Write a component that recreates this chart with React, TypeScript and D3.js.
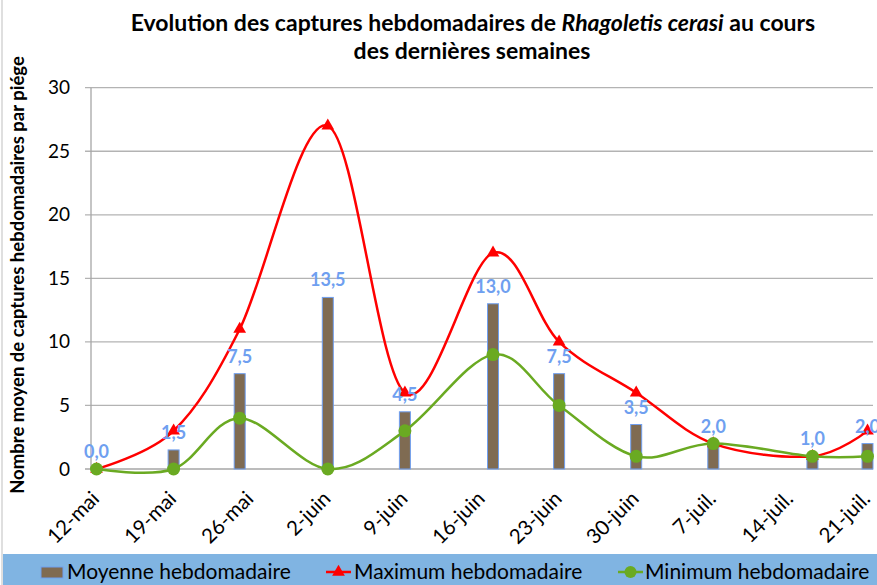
import React from 'react';
import * as d3 from 'd3';

// relevés (dates réelles des captures)
const dates = ['2019-05-12', '2019-05-19', '2019-05-25', '2019-06-02', '2019-06-09', '2019-06-17', '2019-06-23', '2019-06-30', '2019-07-07', '2019-07-16', '2019-07-21'];
const moyenne = [0.0, 1.5, 7.5, 13.5, 4.5, 13.0, 7.5, 3.5, 2.0, 1.0, 2.0];
const maximum = [0, 3, 11, 27, 6, 17, 10, 6, 2, 1, 3];
const minimum = [0, 0, 4, 0, 3, 9, 5, 1, 2, 1, 1];

// graduations de l'axe des dates
const tickDates = ['2019-05-12', '2019-05-19', '2019-05-26', '2019-06-02', '2019-06-09', '2019-06-16', '2019-06-23', '2019-06-30', '2019-07-07', '2019-07-14', '2019-07-21'];
const tickLabels = ['12-mai', '19-mai', '26-mai', '2-juin', '9-juin', '16-juin', '23-juin', '30-juin', '7-juil.', '14-juil.', '21-juil.'];
const yTicks = [0, 5, 10, 15, 20, 25, 30];

const FONT = 'Lato, "Open Sans", sans-serif';
const RED = '#ff0000';
const GREEN = '#6aaa22';
const BROWN = '#7f6b52';
const BAR_STROKE = '#6f9ff0';
const LABEL_BLUE = '#6f9ff0';

export default function App() {
  const parse = d3.timeParse('%Y-%m-%d');
  const days = dates.map(d => parse(d) as Date);
  const ticks = tickDates.map(d => parse(d) as Date);

  const half = 12 * 3600 * 1000;
  const x = d3.scaleTime()
    .domain([new Date(days[0].getTime() - half), new Date(days[days.length - 1].getTime() + half)])
    .range([91, 873]);
  const y = d3.scaleLinear().domain([0, 30]).range([469, 87.7]);

  const curve = d3.curveCardinal.tension(0);
  const lineOf = (vals: number[]) =>
    d3.line<number>()
      .x((_, i) => x(days[i]))
      .y(v => y(v))
      .curve(curve)(vals) as string;

  const tri = d3.symbol().type(d3.symbolTriangle).size(70)() as string;
  const barW = 11;

  return (
    <div style={{ position: 'absolute', left: 0, top: 0 }}>
      <svg width={877} height={585} style={{ display: 'block', fontFamily: FONT }}>
        <rect x={0} y={0} width={877} height={585} fill="#ffffff" />
        <line x1={2} x2={2} y1={0} y2={585} stroke="#bfbfbf" />

        {/* titre */}
        <text x={473} y={31} textAnchor="middle" fontSize={23} fontWeight="bold" fill="#000">
          Evolution des captures hebdomadaires de <tspan fontStyle="italic">Rhagoletis cerasi</tspan> au cours
        </text>
        <text x={472} y={59} textAnchor="middle" fontSize={23} fontWeight="bold" fill="#000">
          des dernières semaines
        </text>

        {/* titre axe Y */}
        <text transform="translate(24,275) rotate(-90)" textAnchor="middle" fontSize={18.5} fontWeight="bold" fill="#000">
          Nombre moyen de captures hebdomadaires par piége
        </text>

        {/* grille + axe Y */}
        {yTicks.map(t => (
          <g key={t}>
            <line x1={85} x2={873} y1={y(t)} y2={y(t)} stroke={t === 0 ? '#a6a6a6' : '#b3b3b3'} strokeWidth={1.3} />
            <text x={70} y={y(t) + 6.5} textAnchor="end" fontSize={19} fill="#000">{t}</text>
          </g>
        ))}
        <line x1={91} x2={91} y1={y(30)} y2={y(0)} stroke="#a6a6a6" strokeWidth={1.3} />

        {/* libellés des dates */}
        {ticks.map((t, i) => (
          <text key={i} transform={`translate(${x(t) + 4},${500}) rotate(-45)`} textAnchor="end" fontSize={20.5} fill="#000">
            {tickLabels[i]}
          </text>
        ))}

        {/* barres moyenne */}
        {moyenne.map((v, i) => (
          <rect key={i} x={x(days[i]) - barW / 2} y={y(v)} width={barW} height={y(0) - y(v)}
            fill={BROWN} stroke={BAR_STROKE} strokeWidth={1} />
        ))}

        {/* maximum */}
        <path d={lineOf(maximum)} fill="none" stroke={RED} strokeWidth={2.5} />
        {maximum.map((v, i) => (
          <path key={i} d={tri} transform={`translate(${x(days[i])},${y(v)})`} fill={RED} />
        ))}

        {/* minimum */}
        <path d={lineOf(minimum)} fill="none" stroke={GREEN} strokeWidth={2.5} />
        {minimum.map((v, i) => (
          <circle key={i} cx={x(days[i])} cy={y(v)} r={6.5} fill={GREEN} />
        ))}

        {/* étiquettes de données */}
        {moyenne.map((v, i) => (
          <text key={i} x={x(days[i])} y={y(v) - 11} textAnchor="middle" fontSize={18} fontWeight="bold" fill={LABEL_BLUE}>
            {d3.format('.1f')(v).replace('.', ',')}
          </text>
        ))}

        {/* légende */}
        <rect x={3} y={554} width={874} height={31} fill="#80b4e2" />
        <rect x={41} y={567} width={22} height={11} fill={BROWN} stroke={BAR_STROKE} />
        <text x={67} y={579} fontSize={21} fill="#000">Moyenne hebdomadaire</text>
        <line x1={326} x2={351} y1={572} y2={572} stroke={RED} strokeWidth={2.5} />
        <path d={tri} transform="translate(338.5,572)" fill={RED} />
        <text x={354} y={579} fontSize={21} fill="#000">Maximum hebdomadaire</text>
        <line x1={618} x2={643} y1={572} y2={572} stroke={GREEN} strokeWidth={2.5} />
        <circle cx={630.5} cy={572} r={6} fill={GREEN} />
        <text x={645} y={579} fontSize={21} fill="#000">Minimum hebdomadaire</text>
      </svg>
    </div>
  );
}
